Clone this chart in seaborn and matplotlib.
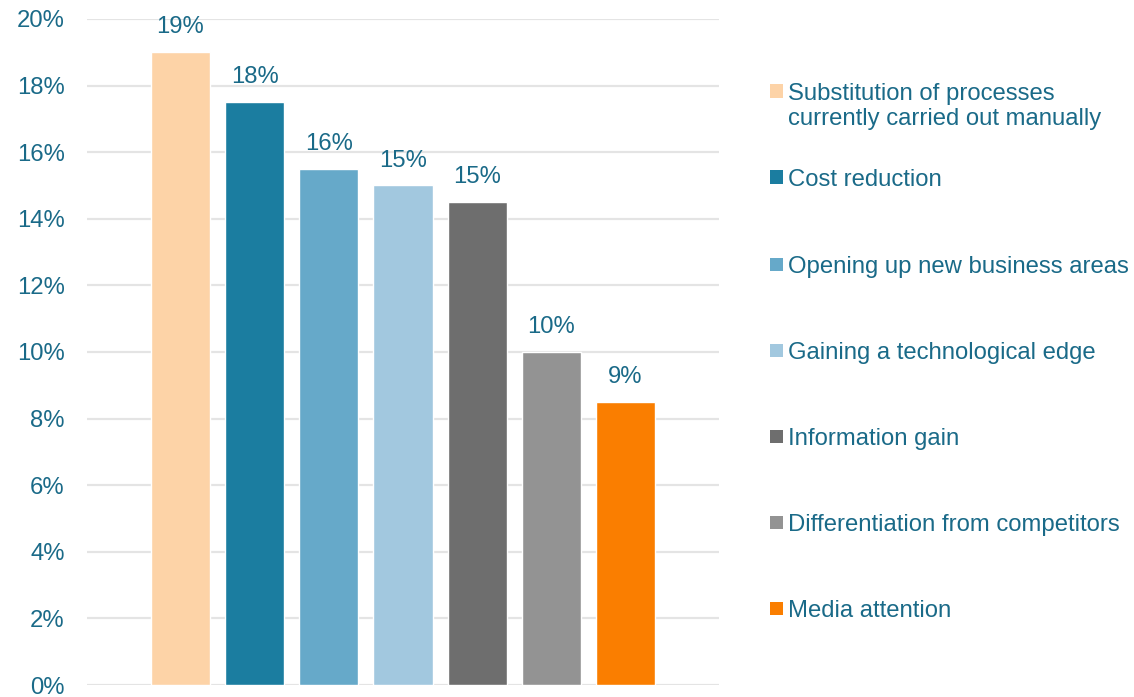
import math
import matplotlib
matplotlib.use("Agg")
import matplotlib.pyplot as plt
from matplotlib.patches import Rectangle
import pandas as pd
import seaborn as sns

# Reasons for adoption and their share of responses (%)
categories = [
    "Substitution of processes\ncurrently carried out manually",
    "Cost reduction",
    "Opening up new business areas",
    "Gaining a technological edge",
    "Information gain",
    "Differentiation from competitors",
    "Media attention",
]
shares = [19.0, 17.5, 15.5, 15.0, 14.5, 10.0, 8.5]
colors = ["#FDD3A7", "#1B7DA0", "#66A9C9", "#A2C8DF", "#6E6E6E", "#939393", "#FA7E00"]
y_ticks = [0, 2, 4, 6, 8, 10, 12, 14, 16, 18, 20]

TEXT = "#1A6A88"
FS = 17.2

sns.set_theme(style="white")
plt.rcParams["font.family"] = ["Liberation Sans", "DejaVu Sans"]

df = pd.DataFrame({"reason": categories, "share": shares})

fig = plt.figure(figsize=(11.34, 6.97), dpi=100)
ax = fig.add_axes([87 / 1134, 1 - 685 / 697, (719 - 87) / 1134, (685 - 19) / 697])

sns.barplot(data=df, x="reason", y="share", hue="reason", palette=colors,
            dodge=False, legend=False, width=0.8, saturation=1, ax=ax, zorder=3)

# value labels above each bar (rounded half up)
for cont in ax.containers:
    ax.bar_label(cont, labels=[f"{math.floor(b.get_height() + 0.5):d}%" for b in cont],
                 padding=10, color=TEXT, fontsize=FS)

ax.set_ylim(0, 20)
ax.set_xlim(-1.26, len(categories) - 1 + 1.26)
ax.set_yticks(y_ticks)
ax.set_yticklabels([f"{t}%" for t in y_ticks], color=TEXT, fontsize=FS)
ax.tick_params(axis="y", length=0, pad=16)
ax.set_xticks([])
ax.set_xlabel("")
ax.set_ylabel("")
ax.yaxis.grid(True, color="#E4E4E4", linewidth=1.6, zorder=0)
ax.set_axisbelow(True)
for s in ax.spines.values():
    s.set_visible(False)

# legend on the right
W, H = 1134, 697
row_y = [91, 177, 264, 350, 436, 522, 608]
sq = 13
for lab, col, y in zip(categories, colors, row_y):
    fig.patches.append(Rectangle(((770) / W, 1 - (y + sq / 2) / H), sq / W, sq / H,
                                 transform=fig.transFigure, facecolor=col,
                                 edgecolor="none"))
    fig.text(788 / W, 1 - (y - 8) / H, lab, color=TEXT, fontsize=FS,
             ha="left", va="top", linespacing=1.2)

fig.savefig("out.png", dpi=100)
